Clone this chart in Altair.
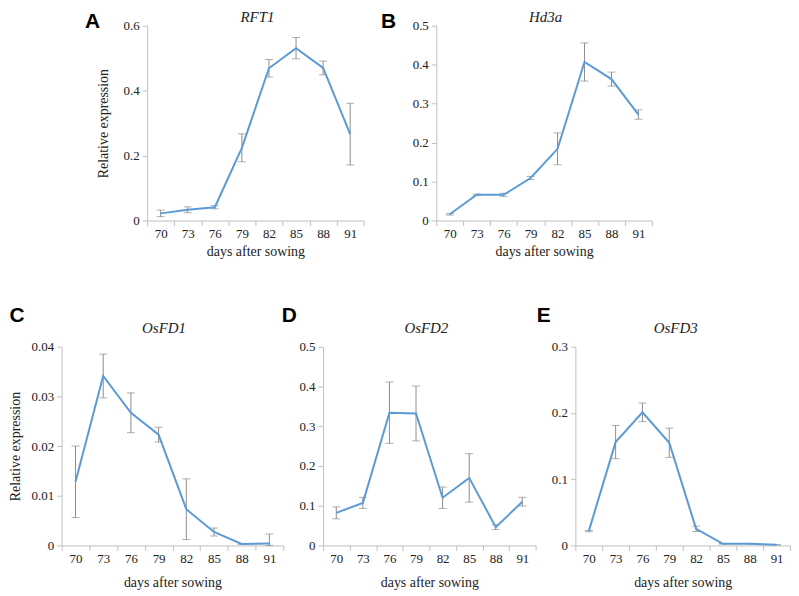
import altair as alt
import pandas as pd

days = [70, 73, 76, 79, 82, 85, 88, 91]

rft1_mean = [0.022, 0.033, 0.041, 0.224, 0.469, 0.531, 0.470, 0.266]
rft1_err = [0.010, 0.009, 0.005, 0.043, 0.027, 0.033, 0.021, 0.095]

hd3a_mean = [0.016, 0.066, 0.066, 0.109, 0.184, 0.407, 0.363, 0.272]
hd3a_err = [0.002, 0.002, 0.004, 0.004, 0.041, 0.049, 0.018, 0.012]

osfd1_mean = [0.0128, 0.0341, 0.0267, 0.0223, 0.0073, 0.0027, 0.0003, 0.0004]
osfd1_err = [0.0072, 0.0044, 0.0040, 0.0015, 0.0061, 0.0008, 0.0001, 0.0019]

osfd2_mean = [0.082, 0.107, 0.334, 0.332, 0.120, 0.170, 0.046, 0.110]
osfd2_err = [0.015, 0.014, 0.077, 0.069, 0.027, 0.061, 0.006, 0.011]

osfd3_mean = [0.0216, 0.156, 0.201, 0.155, 0.025, 0.0025, 0.0025, 0.001]
osfd3_err = [0.001, 0.025, 0.014, 0.022, 0.004, 0.0005, 0.0005, 0.0003]

y_ticks = {
    "A": [0, 0.2, 0.4, 0.6],
    "B": [0, 0.1, 0.2, 0.3, 0.4, 0.5],
    "C": [0, 0.01, 0.02, 0.03, 0.04],
    "D": [0, 0.1, 0.2, 0.3, 0.4, 0.5],
    "E": [0, 0.1, 0.2, 0.3],
}

LINE = "#5b9bd5"
ERR = "#8c8c8c"
SERIF = "Liberation Serif"


def panel(letter, gene, mean, err, ticks, w, h, ytitle, ytitle_pad, letter_x,
          letter_y, gene_x, gene_y, baseline, xtitle_pad):
    df = pd.DataFrame({
        "day": days,
        "mean": mean,
        "lo": [m - e for m, e in zip(mean, err)],
        "hi": [m + e for m, e in zip(mean, err)],
    })
    xaxis = alt.Axis(title="days after sowing", labelAngle=0, tickBand="extent",
                     tickSize=5, labelPadding=2, titlePadding=xtitle_pad)
    xs = alt.Scale(type="band", paddingInner=0, paddingOuter=0)
    x = alt.X("day:O", scale=xs, axis=xaxis, bandPosition=0.5)
    ys = alt.Scale(domain=[0, ticks[-1]], nice=False, clamp=True)
    if ytitle:
        yaxis = alt.Axis(title=ytitle, values=ticks, format=".2~f", tickSize=5,
                         labelPadding=3, titlePadding=ytitle_pad)
    else:
        yaxis = alt.Axis(title=None, values=ticks, format=".2~f", tickSize=5,
                         labelPadding=3)
    base = alt.Chart(df)
    rules = base.mark_rule(color=ERR, strokeWidth=1).encode(
        x=x, y=alt.Y("lo:Q", scale=ys, axis=yaxis), y2="hi:Q")
    cap_lo = base.mark_tick(color=ERR, thickness=1, size=8).encode(
        x=x, y=alt.Y("lo:Q", scale=ys, axis=yaxis))
    cap_hi = base.mark_tick(color=ERR, thickness=1, size=8).encode(
        x=x, y=alt.Y("hi:Q", scale=ys, axis=yaxis))
    line = base.mark_line(color=LINE, strokeWidth=2).encode(
        x=x, y=alt.Y("mean:Q", scale=ys, axis=yaxis))
    lbl = alt.Chart(pd.DataFrame({"t": [letter]})).mark_text(
        font="Liberation Sans", fontWeight="bold", fontSize=21, align="center",
        baseline=baseline, color="#000").encode(
        text="t:N", x=alt.value(letter_x), y=alt.value(letter_y))
    gtl = alt.Chart(pd.DataFrame({"t": [gene]})).mark_text(
        font=SERIF, fontStyle="italic", fontSize=15, align="center",
        baseline=baseline, color="#222").encode(
        text="t:N", x=alt.value(gene_x), y=alt.value(gene_y))
    return alt.layer(rules, cap_lo, cap_hi, line, lbl, gtl).properties(width=w, height=h)


spacer = alt.Chart(pd.DataFrame({"v": [0]})).mark_point(opacity=0, size=1).encode(
    x=alt.value(5), y=alt.value(100)).properties(width=13, height=196)

pA = panel("A", "RFT1", rft1_mean, rft1_err, y_ticks["A"], 218, 196,
           "Relative expression", 13, -55, -15, 111, -16, "top", 4)
pB = panel("B", "Hd3a", hd3a_mean, hd3a_err, y_ticks["B"], 217, 196,
           None, 0, -48, -15, 110, -16, "top", 4)
pC = panel("C", "OsFD1", osfd1_mean, osfd1_err, y_ticks["C"], 223, 200,
           "Relative expression", 9, -45, -31, 103, -19, "middle", 10)
pD = panel("D", "OsFD2", osfd2_mean, osfd2_err, y_ticks["D"], 214, 200,
           None, 0, -34, -31, 104, -19, "middle", 10)
pE = panel("E", "OsFD3", osfd3_mean, osfd3_err, y_ticks["E"], 216, 200,
           None, 0, -32, -31, 101, -19, "middle", 10)

top = alt.hconcat(spacer, pA, pB, spacing=73, bounds="flush")
bottom = alt.hconcat(pC, pD, pE, spacing=40, bounds="flush")

chart = alt.vconcat(top, bottom, spacing=47).properties(
    padding={"left": 0, "top": 0, "right": 0, "bottom": 0}
).configure_view(stroke=None).configure_axis(
    domainColor="#bfbfbf", tickColor="#bfbfbf", grid=False,
    labelFont=SERIF, labelFontSize=13, labelColor="#222",
    titleFont=SERIF, titleFontSize=14, titleFontWeight="normal", titleColor="#222",
)

chart.save("out.html", embed_options={"renderer": "svg", "actions": False})
